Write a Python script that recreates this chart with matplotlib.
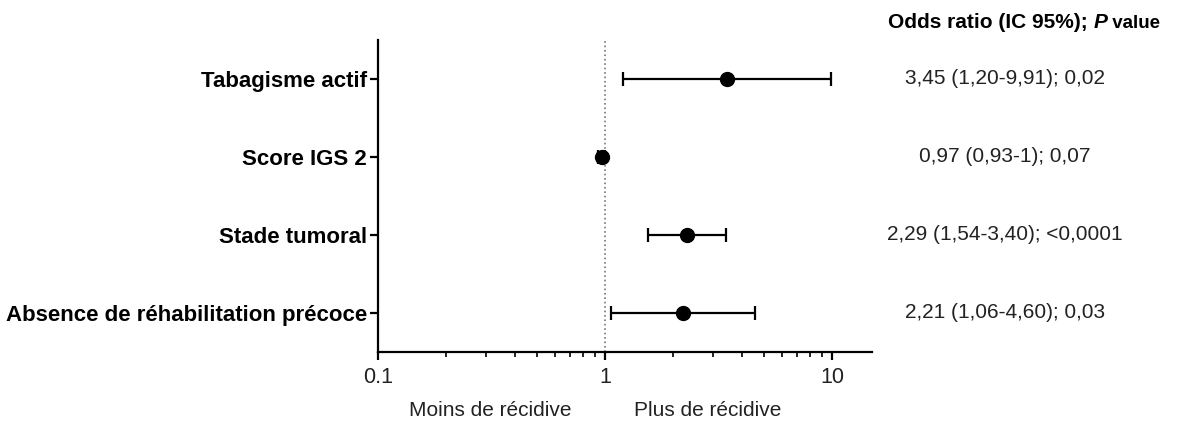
import matplotlib.pyplot as plt
from matplotlib.ticker import LogLocator, NullFormatter, FixedFormatter
from matplotlib.transforms import blended_transform_factory

plt.rcParams["font.family"] = ["Liberation Sans", "DejaVu Sans"]

# Données du forest plot (odds ratio et IC 95 %)
variables = ["Tabagisme actif", "Score IGS 2", "Stade tumoral",
             "Absence de réhabilitation précoce"]
odds_ratio = [3.45, 0.97, 2.29, 2.21]
ic_bas = [1.20, 0.93, 1.54, 1.06]
ic_haut = [9.91, 1.00, 3.40, 4.60]
textes = ["3,45 (1,20-9,91); 0,02", "0,97 (0,93-1); 0,07",
          "2,29 (1,54-3,40); <0,0001", "2,21 (1,06-4,60); 0,03"]
graduations = [0.1, 1, 10]
etiquettes_grad = ["0.1", "1", "10"]

fig = plt.figure(figsize=(11.79, 4.29), dpi=100)
ax = fig.add_axes([0.3206, 0.1795, 0.419, 0.7273])

ypos = list(range(len(variables), 0, -1))
err_bas = [o - b for o, b in zip(odds_ratio, ic_bas)]
err_haut = [h - o for o, h in zip(odds_ratio, ic_haut)]

ax.axvline(1, color="#777777", linestyle=":", linewidth=1.2, zorder=1)
ax.errorbar(odds_ratio, ypos, xerr=[err_bas, err_haut], fmt="o",
            color="black", markersize=10, elinewidth=1.6, capsize=5,
            capthick=1.6, zorder=3)

ax.set_xscale("log")
ax.set_xlim(0.1, 15)
ax.set_ylim(0.5, 4.5)
ax.xaxis.set_major_locator(plt.FixedLocator(graduations))
ax.xaxis.set_major_formatter(FixedFormatter(etiquettes_grad))
ax.xaxis.set_minor_locator(LogLocator(base=10, subs=range(2, 10)))
ax.xaxis.set_minor_formatter(NullFormatter())

ax.set_yticks(ypos)
ax.set_yticklabels(variables, fontweight="bold", fontsize=16)

for side in ["top", "right"]:
    ax.spines[side].set_visible(False)
for side in ["left", "bottom"]:
    ax.spines[side].set_linewidth(1.6)
ax.tick_params(axis="both", which="major", width=1.6, length=6,
               labelsize=15.5, colors="black")
ax.tick_params(axis="y", pad=2, labelsize=16)
ax.tick_params(axis="x", which="minor", width=1.2, length=3.5)
ax.tick_params(axis="x", pad=5)
for lab in ax.get_xticklabels():
    lab.set_color("#222222")

# Annotations sous l'axe
fig.text(490 / 1179, 1 - 410 / 429, "Moins de récidive",
         ha="center", va="center", fontsize=15, color="#222222")
fig.text(708 / 1179, 1 - 410 / 429, "Plus de récidive",
         ha="center", va="center", fontsize=15, color="#222222")

# Colonne de droite : titre en trois morceaux (P en italique)
morceaux = [("Odds ratio (IC 95%); ", 15, "normal"),
            ("P", 15, "italic"),
            (" value", 13.5, "normal")]
fig.canvas.draw()
renderer = fig.canvas.get_renderer()
x_px = 888
for txt, taille, style in morceaux:
    t = fig.text(x_px / 1179, 1 - 28 / 429, txt, ha="left", va="baseline",
                 fontsize=taille, fontweight="bold", fontstyle=style)
    x_px += t.get_window_extent(renderer).width

trans = blended_transform_factory(fig.transFigure, ax.transData)
for y, t in zip(ypos, textes):
    ax.text(1005 / 1179, y, t, transform=trans, ha="center",
            va="center", fontsize=15, color="#222222")

fig.savefig("out.png", dpi=100)
